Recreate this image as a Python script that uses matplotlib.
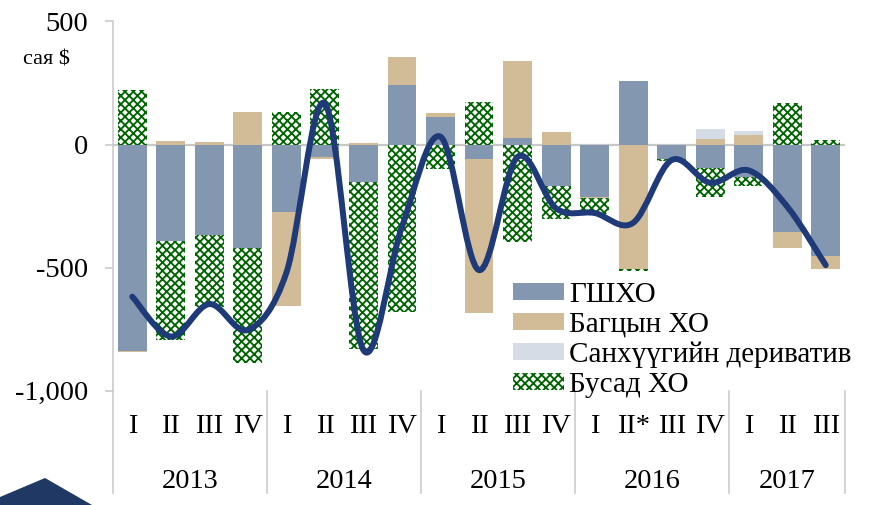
import matplotlib
matplotlib.use("Agg")
import matplotlib.pyplot as plt
import numpy as np
from matplotlib.path import Path
from matplotlib.patches import PathPatch, Patch, Polygon
from matplotlib.ticker import FuncFormatter
import matplotlib.transforms as mtransforms

plt.rcParams['font.family'] = ['Liberation Serif', 'DejaVu Serif']
plt.rcParams['hatch.linewidth'] = 1.35

# ---------------- data ----------------
years = ['2013', '2014', '2015', '2016', '2017']
quarters = ['I', 'II', 'III', 'IV',
            'I', 'II', 'III', 'IV',
            'I', 'II', 'III', 'IV',
            'I', 'II*', 'III', 'IV',
            'I', 'II', 'III']
year_sizes = [4, 4, 4, 4, 3]

gshxo = [-838, -392, -367, -419, -273, -50, -154, 242, 111, -59, 25, -167,
         -212, 258, -59, -94, -133, -357, -451]
bagtsyn = [-5, 14, 10, 131, -381, -10, 5, 115, 16, -627, 315, 50,
           -5, -507, 0, 21, 39, -62, -55]
derivativ = [0, 0, 0, 0, 0, 0, 0, 0, 0, 0, 0, 0,
             0, 0, 0, 41, 17, 0, 0]
busad = [221, -401, -291, -469, 133, 224, -675, -682, -100, 174, -397, -135,
         -65, -5, -8, -121, -34, 167, 17]
total = [-618, -780, -648, -753, -521, 167, -835, -334, 32, -510, -50, -259,
         -278, -318, -63, -155, -105, -252, -490]

series_names = ['ГШХО', 'Багцын ХО', 'Санхүүгийн дериватив', 'Бусад ХО']
series_vals = [gshxo, bagtsyn, derivativ, busad]
series_colors = ['#8497B0', '#D1BC97', '#D6DCE5', 'white']
green = '#006400'
HATCH = 'xxxx'

# ---------------- figure ----------------
W, H = 871, 505
fig = plt.figure(figsize=(W / 100, H / 100), dpi=100)
ax = fig.add_axes([113 / W, 1 - 390.7 / H, (845 - 113) / W, (390.7 - 21.5) / H])

n = len(quarters)
x = np.arange(n)
pos_base = np.zeros(n)
neg_base = np.zeros(n)
gray = '#C8C8C8'

for name, vals, col in zip(series_names, series_vals, series_colors):
    v = np.array(vals, dtype=float)
    bottom = np.where(v >= 0, pos_base, neg_base)
    if name == 'Бусад ХО':
        ax.bar(x, v, 0.75, bottom=bottom, facecolor='white', edgecolor=green,
               hatch=HATCH, linewidth=0, zorder=2)
    else:
        ax.bar(x, v, 0.75, bottom=bottom, color=col, linewidth=0, zorder=2)
    pos_base = np.where(v >= 0, pos_base + v, pos_base)
    neg_base = np.where(v < 0, neg_base + v, neg_base)

# zero axis line
ax.axhline(0, color=gray, lw=1.6, zorder=1.5)

# smoothed total line (Catmull-Rom style Bezier through the data points)
pts = np.column_stack([x, np.array(total, dtype=float)])
verts = [pts[0]]
codes = [Path.MOVETO]
for i in range(n - 1):
    p0 = pts[max(i - 1, 0)]
    p1 = pts[i]
    p2 = pts[i + 1]
    p3 = pts[min(i + 2, n - 1)]
    c1 = p1 + (p2 - p0) / 6.0
    c2 = p2 - (p3 - p1) / 6.0
    verts += [c1, c2, p2]
    codes += [Path.CURVE4] * 3
ax.add_patch(PathPatch(Path(verts, codes), fill=False, edgecolor='#1E3A78',
                       lw=4.3, capstyle='round', joinstyle='round', zorder=4))

ax.set_xlim(-0.5, n - 0.5)
ax.set_ylim(-1000, 500)
ax.set_yticks([-1000, -500, 0, 500])
ax.yaxis.set_major_formatter(FuncFormatter(lambda v, p: f'{int(v):,}'))
ax.tick_params(axis='y', direction='out', length=6, width=1.1, color=gray,
               labelsize=20.5, pad=12)
ax.set_xticks([])
for s in ['top', 'right', 'bottom']:
    ax.spines[s].set_visible(False)
ax.spines['left'].set_color(gray)
ax.spines['left'].set_linewidth(1.1)

# category labels
trans = mtransforms.blended_transform_factory(ax.transData, ax.transAxes)
for xi, q in zip(x, quarters):
    ax.text(xi, -0.097, q, transform=trans, ha='center', va='center', fontsize=20.5)
start = 0
bounds = [-0.5]
for y, sz in zip(years, year_sizes):
    ax.text(start + (sz - 1) / 2, -0.245, y, transform=trans, ha='center',
            va='center', fontsize=20.5)
    start += sz
    bounds.append(start - 0.5)
for b in bounds:
    ax.plot([b, b], [0, -0.277], transform=trans, color=gray, lw=1.1,
            clip_on=False)

fig.text(23 / W, 1 - 60 / H, 'сая $', fontsize=16, ha='left', va='center')

# legend
handles = []
for name, col in zip(series_names, series_colors):
    if name == 'Бусад ХО':
        handles.append(Patch(facecolor='white', edgecolor=green, hatch=HATCH,
                             linewidth=0, label=name))
    else:
        handles.append(Patch(facecolor=col, linewidth=0, label=name))
fig.legend(handles=handles, loc='upper left',
           bbox_to_anchor=(513 / W, 1 - 282 / H), frameon=False, fontsize=21,
           borderpad=0, borderaxespad=0, handlelength=1.75, handleheight=0.5,
           handletextpad=0.18, labelspacing=0.13)

# decorative triangle
fig.patches.append(Polygon([[0, 0], [0, 8 / H], [45 / W, 27 / H], [92 / W, 0]],
                           closed=True, transform=fig.transFigure,
                           facecolor='#1F3864', edgecolor='none'))

fig.savefig('out.png', dpi=100)
